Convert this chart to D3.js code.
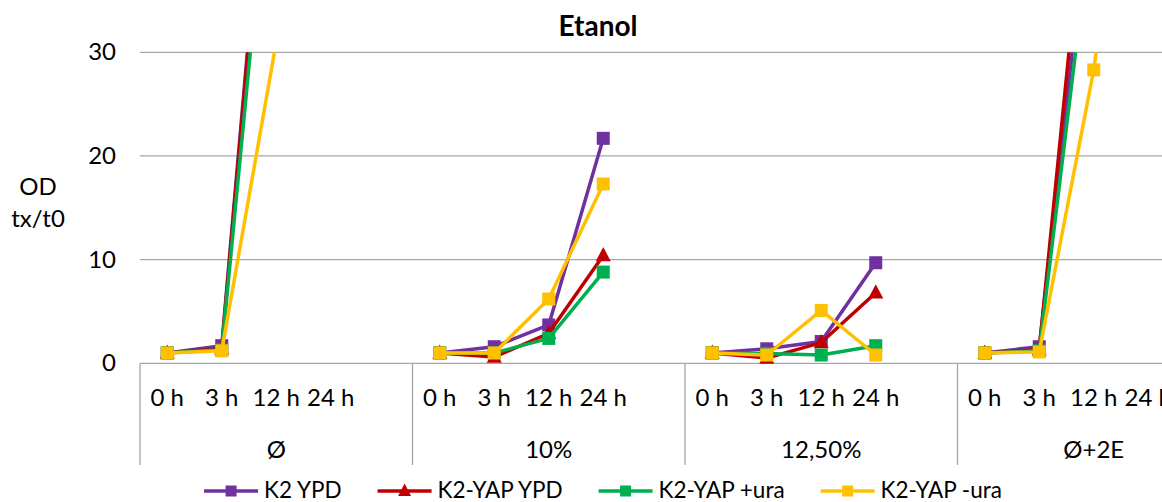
<!DOCTYPE html>
<html>
<head>
<meta charset="utf-8">
<script src="https://cdn.jsdelivr.net/npm/d3@7"></script>
<style>
  body { margin: 0; background: #fff; }
  svg { display: block; font-family: Lato, "Open Sans", sans-serif; }
</style>
</head>
<body>
<div id="chart"></div>
<script>
let groups = ["Ø", "10%", "12,50%", "Ø+2E"];
let times = ["0 h", "3 h", "12 h", "24 h", ""];
let yTicks = [0, 10, 20, 30];

// one value per slot, null = empty fifth slot of each group
let k2Ypd    = [1, 1.7, 62, 75, null,  1, 1.6, 3.7, 21.7, null,  1, 1.4, 2.1, 9.7, null,  1, 1.6, 48.5, 70, null];
let k2YapYpd = [1, 1.4, 61, 72, null,  1, 0.6, 2.9, 10.4, null,  1, 0.5, 2.0, 6.8, null,  1, 1.3, 54, 72, null];
let k2YapUra = [1, 1.3, 56, 68, null,  1, 1.0, 2.4, 8.8, null,   1, 0.95, 0.8, 1.7, null, 1, 1.2, 44.4, 65, null];
let k2YapNoUra = [1, 1.2, 31, 60, null, 1, 1.0, 6.2, 17.3, null, 1, 0.8, 5.1, 0.8, null,  1, 1.1, 28.3, 68, null];

let series = [
    {name: "K2 YPD", values: k2Ypd, color: "#7030A0", marker: "square"},
    {name: "K2-YAP YPD", values: k2YapYpd, color: "#C00000", marker: "triangle"},
    {name: "K2-YAP +ura", values: k2YapUra, color: "#00B050", marker: "square"},
    {name: "K2-YAP -ura", values: k2YapNoUra, color: "#FFC000", marker: "square"}
];

let width = 1162, height = 502;
let plotLeft = 140, plotRight = 1230, plotTop = 52.3, plotBottom = 363.3;

let slots = [];
groups.forEach(g => times.forEach(t => slots.push(g + "|" + t)));

let svg = d3.select("#chart").append("svg")
    .attr("width", width)
    .attr("height", height);

let x = d3.scaleBand().domain(slots).range([plotLeft, plotRight]);
let xGroup = d3.scaleBand().domain(groups).range([plotLeft, plotRight]);
let y = d3.scaleLinear().domain([0, 30]).range([plotBottom, plotTop]);
let cx = i => x(slots[i]) + x.bandwidth() / 2;

// gridlines
svg.append("g")
    .selectAll("line")
    .data(yTicks)
    .enter().append("line")
    .attr("x1", plotLeft).attr("x2", plotRight)
    .attr("y1", d => y(d)).attr("y2", d => y(d))
    .attr("stroke", "#a6a6a6")
    .attr("stroke-width", 1.3);

// y axis labels
let yAxis = svg.append("g")
    .attr("transform", "translate(" + (plotLeft - 24) + ",0)")
    .call(d3.axisLeft(y).tickValues(yTicks).tickSize(0).tickPadding(0));
yAxis.select(".domain").remove();
yAxis.selectAll("text")
    .attr("font-family", "Lato")
    .attr("font-size", 24)
    .attr("fill", "#000");

svg.append("text")
    .attr("x", 38).attr("y", 195)
    .attr("text-anchor", "middle")
    .attr("font-size", 24)
    .text("OD");
svg.append("text")
    .attr("x", 38).attr("y", 227)
    .attr("text-anchor", "middle")
    .attr("font-size", 24)
    .text("tx/t0");

// category axis: separators and labels
let sepX = groups.map(g => xGroup(g)).concat([plotRight]);
svg.append("g")
    .selectAll("line")
    .data(sepX)
    .enter().append("line")
    .attr("x1", d => d).attr("x2", d => d)
    .attr("y1", plotBottom).attr("y2", 465)
    .attr("stroke", "#a6a6a6")
    .attr("stroke-width", 1.3);

svg.append("g")
    .selectAll("text")
    .data(slots)
    .enter().append("text")
    .attr("x", (d, i) => cx(i))
    .attr("y", 406)
    .attr("text-anchor", "middle")
    .attr("font-size", 24)
    .text(d => d.split("|")[1]);

svg.append("g")
    .selectAll("text")
    .data(groups)
    .enter().append("text")
    .attr("x", d => xGroup(d) + xGroup.bandwidth() / 2)
    .attr("y", 458)
    .attr("text-anchor", "middle")
    .attr("font-size", 24)
    .text(d => d);

// title
svg.append("text")
    .attr("x", 598).attr("y", 36)
    .attr("text-anchor", "middle")
    .attr("font-size", 28)
    .attr("font-weight", "bold")
    .text("Etanol");

// plot clip (values above 30 run off the top)
svg.append("clipPath").attr("id", "plot-clip")
    .append("rect")
    .attr("x", 0).attr("y", plotTop)
    .attr("width", width).attr("height", height - plotTop);

let plot = svg.append("g").attr("clip-path", "url(#plot-clip)");

let valueLine = d3.line()
    .defined(d => d != null)
    .x((d, i) => cx(i))
    .y(d => y(d));

function drawMarker(sel, type, size, color) {
    if (type === "square") {
        sel.append("rect")
            .attr("x", -size / 2).attr("y", -size / 2)
            .attr("width", size).attr("height", size)
            .attr("fill", color);
    } else {
        let h = size * 0.95;
        sel.append("path")
            .attr("d", "M0," + (-h * 0.6) + "L" + (size / 2) + "," + (h * 0.4) + "L" + (-size / 2) + "," + (h * 0.4) + "Z")
            .attr("fill", color);
    }
}

series.forEach(s => {
    let g = plot.append("g");
    g.append("path")
        .datum(s.values)
        .attr("fill", "none")
        .attr("stroke", s.color)
        .attr("stroke-width", 3.5)
        .attr("stroke-linejoin", "round")
        .attr("d", valueLine);

    let pts = s.values.map((v, i) => ({v, i})).filter(p => p.v != null);
    g.selectAll(".m")
        .data(pts)
        .enter().append("g")
        .attr("transform", p => "translate(" + cx(p.i) + "," + y(p.v) + ")")
        .each(function () {
            drawMarker(d3.select(this), s.marker, s.marker === "square" ? 13 : 15, s.color);
        });
});

// legend
let legend = svg.append("g");
let lx = 0;
series.forEach(s => {
    let item = legend.append("g").attr("transform", "translate(" + lx + ",0)");
    item.append("line")
        .attr("x1", 0).attr("x2", 54)
        .attr("y1", 491).attr("y2", 491)
        .attr("stroke", s.color)
        .attr("stroke-width", 3.5);
    let m = item.append("g").attr("transform", "translate(27,491)");
    drawMarker(m, s.marker, s.marker === "square" ? 11 : 13, s.color);
    let t = item.append("text")
        .attr("x", 60).attr("y", 498)
        .attr("font-size", 22.5)
        .text(s.name);
    lx += 60 + t.node().getComputedTextLength() + 36;
});
let legendWidth = lx - 36;
legend.attr("transform", "translate(" + (603 - legendWidth / 2) + ",0)");
</script>
</body>
</html>
